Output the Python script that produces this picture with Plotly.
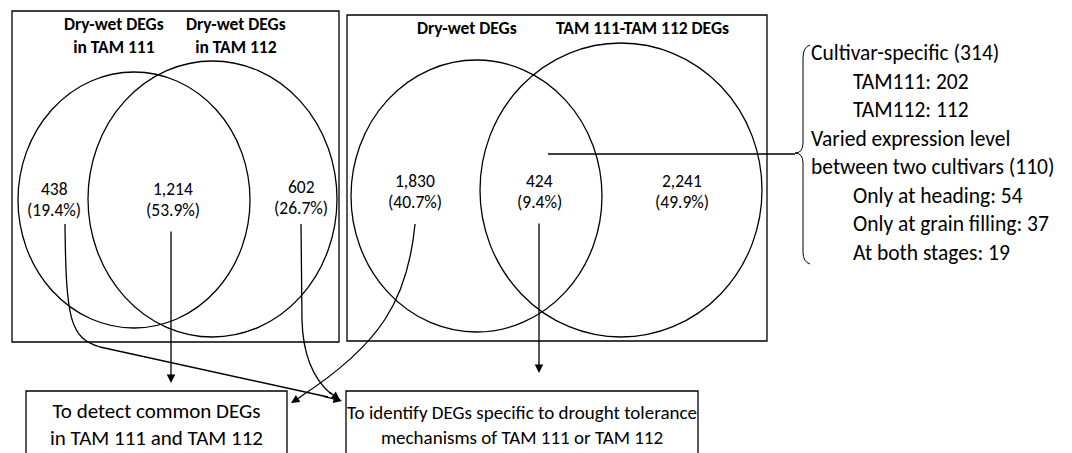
import plotly.graph_objects as go

W, H = 1072, 453
FONT = "Calibri, Carlito, Lato, sans-serif"

# ---- data ----
left_headers = ["Dry-wet DEGs<br>in TAM 111", "Dry-wet DEGs<br>in TAM 112"]
left_counts = [438, 1214, 602]
left_pcts = [19.4, 53.9, 26.7]
right_headers = ["Dry-wet DEGs", "TAM 111-TAM 112 DEGs"]
right_counts = [1830, 424, 2241]
right_pcts = [40.7, 9.4, 49.9]
detail_labels = ["Cultivar-specific (314)", "TAM111: 202", "TAM112: 112",
                 "Varied expression level", "between two cultivars (110)",
                 "Only at heading: 54", "Only at grain filling: 37", "At both stages: 19"]
detail_indent = [0, 1, 1, 0, 0, 1, 1, 1]
box_texts = ["To detect common DEGs<br>in TAM 111 and TAM 112",
             "To identify DEGs specific to drought tolerance<br>mechanisms of TAM 111 or TAM 112"]

# ---- layout positions ----
left_count_pos = [(54, 189), (173, 189), (301, 187)]
right_count_pos = [(415, 181), (539, 181), (682, 181)]

fig = go.Figure()
fig.add_trace(go.Scatter(x=[0, W], y=[0, H], mode="markers", marker=dict(opacity=0), hoverinfo="skip", showlegend=False))

LW = 1.3
line = dict(color="black", width=LW)
shapes = []
# frames
shapes.append(dict(type="rect", x0=12, y0=11, x1=339, y1=342, line=line))
shapes.append(dict(type="rect", x0=347, y0=15, x1=767, y1=341, line=line))
# circles
for (x0, y0, x1, y1) in [(18, 72, 250, 328), (88, 61, 337, 337), (351, 60, 602, 332), (480, 43, 762, 337)]:
    shapes.append(dict(type="circle", x0=x0, y0=y0, x1=x1, y1=y1, line=line))
# bottom boxes
shapes.append(dict(type="rect", x0=26, y0=391, x1=287, y1=470, line=line))
shapes.append(dict(type="rect", x0=346, y0=391, x1=698, y1=470, line=line))
# connector line from 424 to brace
shapes.append(dict(type="line", x0=548, y0=154, x1=795, y1=154, line=line))
# brace
shapes.append(dict(type="path", path="M 810,45 Q 803,47 803,58 L 803,143 Q 803,153 795,153 Q 803,153 803,163 L 803,252 Q 803,262 810,264", line=dict(color="black", width=1)))
# curved arrow bodies
shapes.append(dict(type="path", path="M 65,224 C 66,320 70,338 100,347 L 328,397", line=line))
shapes.append(dict(type="path", path="M 301,224 L 302,320 C 303,360 317,382 331,394", line=line))
shapes.append(dict(type="path", path="M 415,224 C 408,300 380,345 300,397", line=line))

annotations = []
def txt(x, y, s, size, bold=False, xanchor="center"):
    annotations.append(dict(x=x, y=y, xref="x", yref="y", text=(f"<b>{s}</b>" if bold else s),
                            showarrow=False, xanchor=xanchor, yanchor="middle",
                            font=dict(family=FONT, size=size, color="black")))

txt(114, 35, left_headers[0], 17.5, bold=True)
txt(236, 35, left_headers[1], 17.5, bold=True)
txt(467, 28, right_headers[0], 17.5, bold=True)
txt(642, 28, right_headers[1], 17.5, bold=True)

for (x, y), c, p in zip(left_count_pos + right_count_pos, left_counts + right_counts, left_pcts + right_pcts):
    txt(x, y, f"{c:,}", 17.5)
    txt(x, y + 21, f"({p}%)", 17.5)

for i, (lab, ind) in enumerate(zip(detail_labels, detail_indent)):
    txt(809 + 42 * ind, 53 + 28.57 * i, lab, 21.5, xanchor="left")

txt(156, 424, box_texts[0], 21)
txt(522, 425, box_texts[1], 19)

def arrow(xt, yt, xa, ya):
    annotations.append(dict(x=xt, y=yt, ax=xa, ay=ya, xref="x", yref="y", axref="x", ayref="y",
                            showarrow=True, arrowhead=2, arrowsize=1.3, arrowwidth=LW, arrowcolor="black",
                            text="", standoff=0))

arrow(171, 383, 171, 230)
arrow(539, 373, 539, 222)
arrow(342, 401, 322, 396)
arrow(340, 400, 328, 391)
arrow(291, 403, 302, 396)

fig.update_layout(
    width=W, height=H, margin=dict(l=0, r=0, t=0, b=0),
    paper_bgcolor="white", plot_bgcolor="white",
    xaxis=dict(range=[0, W], visible=False, fixedrange=True),
    yaxis=dict(range=[H, 0], visible=False, fixedrange=True),
    shapes=shapes, annotations=annotations, showlegend=False,
)
fig.write_html("out.html", config={"displayModeBar": False},
               post_script="document.body.style.margin='0';")
